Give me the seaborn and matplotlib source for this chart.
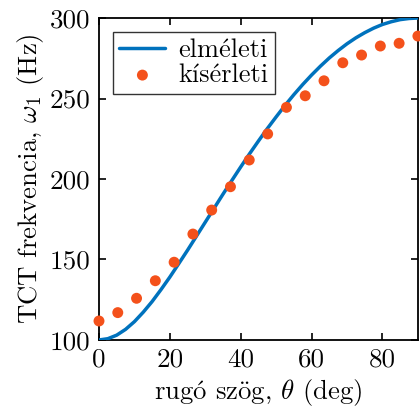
import matplotlib
matplotlib.use("Agg")
import matplotlib.pyplot as plt
import seaborn as sns
import pandas as pd

# theoretical curve
theory_deg = [0, 2.5, 5, 7.5, 10, 12.5, 15, 17.5, 20, 22.5, 25, 27.5, 30, 32.5, 35,
              37.5, 40, 42.5, 45, 47.5, 50, 52.5, 55, 57.5, 60, 62.5, 65, 67.5, 70,
              72.5, 75, 77.5, 80, 82.5, 85, 87.5, 90]
theory_hz = [100.0, 100.8, 103.0, 106.6, 111.4, 117.3, 123.9, 131.3, 139.1, 147.4,
             155.8, 164.5, 173.2, 181.9, 190.6, 199.1, 207.5, 215.7, 223.6, 231.3,
             238.6, 245.7, 252.4, 258.7, 264.6, 270.1, 275.2, 279.8, 284.0, 287.7,
             290.9, 293.7, 296.0, 297.7, 299.0, 299.7, 300.0]

# experimental points
exp_deg = [0, 5.3, 10.6, 15.9, 21.2, 26.5, 31.8, 37.1, 42.4, 47.6, 52.9, 58.2,
           63.5, 68.8, 74.1, 79.4, 84.7, 90]
exp_hz = [111.8, 117.0, 125.9, 136.8, 148.3, 165.8, 180.7, 195.2, 211.8, 228.0,
          244.5, 251.7, 261.0, 272.2, 277.0, 282.6, 284.3, 288.8]

xticks = [0, 20, 40, 60, 80]
yticks = [100, 150, 200, 250, 300]

sns.set_style("ticks")
plt.rcParams["font.family"] = ["Latin Modern Roman", "DejaVu Serif"]
plt.rcParams["mathtext.fontset"] = "cm"
plt.rcParams["text.color"] = "black"
plt.rcParams["axes.labelcolor"] = "black"
plt.rcParams["xtick.color"] = "black"
plt.rcParams["ytick.color"] = "black"

df_t = pd.DataFrame({"deg": theory_deg, "hz": theory_hz})
df_e = pd.DataFrame({"deg": exp_deg, "hz": exp_hz})

fig = plt.figure(figsize=(4.2, 4.17), dpi=100)
ax = fig.add_axes([0.2357, 0.1847, 0.7593, 0.7721])

sns.lineplot(data=df_t, x="deg", y="hz", ax=ax, color="#0072BD", linewidth=2.5,
             label="elméleti", zorder=2)
sns.scatterplot(data=df_e, x="deg", y="hz", ax=ax, color="#F4511B", s=62,
                edgecolor="none", label="kísérleti", zorder=3, clip_on=False)

ax.set_xlim(0, 90)
ax.set_ylim(100, 300)
ax.set_xticks(xticks)
ax.set_yticks(yticks)
ax.tick_params(axis="both", which="both", direction="in", top=True, right=True,
               length=5, width=1.2, labelsize=19.5, pad=6,
               colors="black", labelcolor="black")
for sp in ax.spines.values():
    sp.set_visible(True)
    sp.set_linewidth(1.3)
    sp.set_color("black")
    sp.set_zorder(1)

ax.set_xlabel(r"rugó szög, $\theta$ (deg)", fontsize=19.3, labelpad=4, color="black")
ax.set_ylabel(r"TCT frekvencia, $\omega_1$ (Hz)", fontsize=19.3, labelpad=3, color="black")

leg = ax.legend(loc="upper left", bbox_to_anchor=(0.043, 0.957), fontsize=19,
                frameon=True, fancybox=False, edgecolor="black",
                handlelength=1.75, handletextpad=0.5, borderpad=0.25,
                labelspacing=0.05, borderaxespad=0.0)
leg.get_frame().set_linewidth(1.0)
leg.set_zorder(5)
for t in leg.get_texts():
    t.set_color("black")

fig.savefig("out.png", dpi=100)
